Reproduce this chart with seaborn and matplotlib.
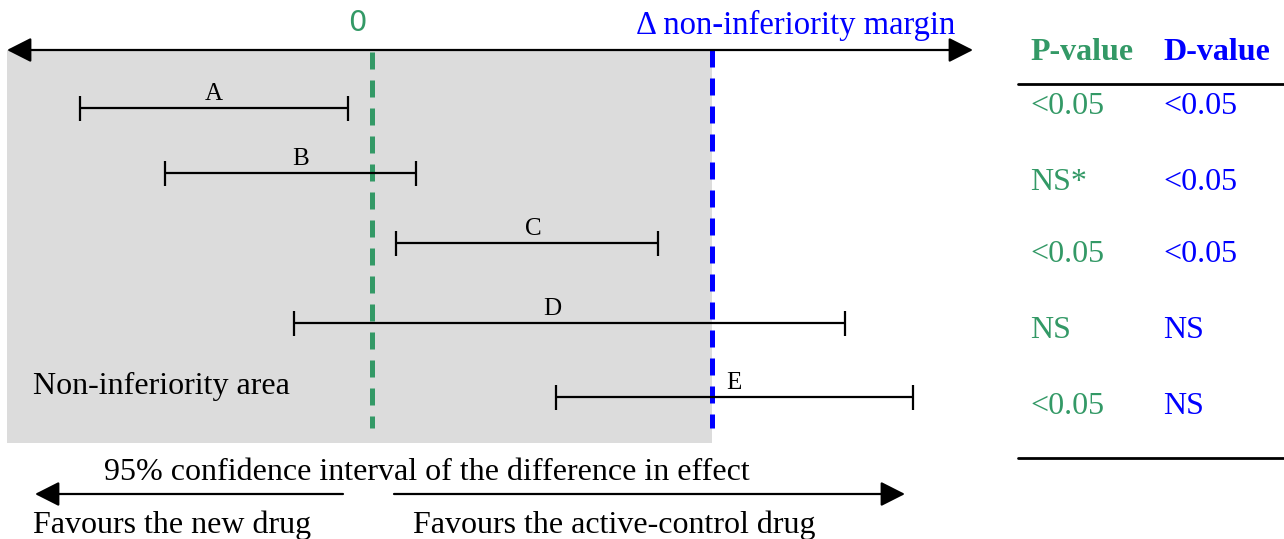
import numpy as np
import pandas as pd
import matplotlib
matplotlib.use("Agg")
import matplotlib.pyplot as plt
import seaborn as sns

# Data: 95% CIs of the difference in effect (units of the non-inferiority margin)
trials = ["A", "B", "C", "D", "E"]
ci_low = [-0.86, -0.61, 0.07, -0.23, 0.54]
ci_high = [-0.07, 0.13, 0.84, 1.39, 1.59]
margin = 1.0
p_values = ["<0.05", "NS*", "<0.05", "NS", "<0.05"]
d_values = ["<0.05", "<0.05", "<0.05", "NS", "NS"]

df = pd.DataFrame({"trial": trials, "low": ci_low, "high": ci_high})
df["mid"] = (df["low"] + df["high"]) / 2
df["half"] = (df["high"] - df["low"]) / 2

# layout (figure pixels, y measured from top)
W, H = 1284, 539
row_y = [108, 173, 243, 323, 397]
table_y = [107, 183, 255, 331, 406]
label_dx = [0.0, 0.03, 0.02, -0.05, 0.0]

sns.set_theme(style="white")
plt.rcParams["font.family"] = ["Liberation Serif", "DejaVu Serif"]

GREEN = "#339966"
BLUE = "#0000ff"
FS = 23

fig = plt.figure(figsize=(W / 100, H / 100), dpi=100)
ax = fig.add_axes([0, 0, 1, 1])
ax.set_xlim((0 - 372) / 340, (W - 372) / 340)
ax.set_ylim(H, 0)
ax.axis("off")

# non-inferiority area
ax.fill_between([(7 - 372) / 340, margin], 50, 443, color="#dcdcdc", lw=0, zorder=0)

# reference lines
ax.vlines(0, 52, 428, colors=GREEN, lw=3.6, linestyles=(0, (3.4, 2.2)), zorder=2)
ax.vlines(margin, 50, 428, colors=BLUE, lw=3.6, linestyles=(0, (3.4, 2.2)), zorder=2)

# confidence intervals
ax.errorbar(df["mid"], row_y, xerr=df["half"], fmt="none", ecolor="black",
            elinewidth=1.6, capsize=9, capthick=1.6, zorder=3)
for i, r in df.iterrows():
    ax.text(r["mid"] + label_dx[i], row_y[i] - 3, r["trial"], ha="center",
            va="bottom", fontsize=18, color="black", zorder=4)

# top axis arrow
ax.annotate("", xy=(7, H - 50), xytext=(973, H - 50), xycoords="figure pixels",
            textcoords="figure pixels",
            arrowprops=dict(arrowstyle="<|-|>,head_length=0.75,head_width=0.38",
                            mutation_scale=20, color="black", lw=1.6,
                            shrinkA=0, shrinkB=0))

fig.text(357 / W, 1 - 23 / H, "0", color=GREEN, fontsize=21, family="DejaVu Sans",
         ha="center", va="center")
fig.text(955 / W, 1 - 25 / H, "\u0394 non-inferiority margin", color=BLUE,
         fontsize=23.5, ha="right", va="center")
fig.text(33 / W, 1 - 386 / H, "Non-inferiority area", color="black", fontsize=FS,
         ha="left", va="center")

# table
fig.text(1030 / W, 1 - 52 / H, "P-value", color=GREEN, fontsize=FS, weight="bold",
         ha="left", va="center")
fig.text(1163 / W, 1 - 52 / H, "D-value", color=BLUE, fontsize=FS, weight="bold",
         ha="left", va="center")
fig.add_artist(plt.Line2D([1018 / W, 1], [1 - 84 / H] * 2, color="black", lw=2))
fig.add_artist(plt.Line2D([1018 / W, 1], [1 - 458 / H] * 2, color="black", lw=2))
for y, p, d in zip(table_y, p_values, d_values):
    fig.text(1030 / W, 1 - y / H, p, color=GREEN, fontsize=FS, ha="left", va="center")
    fig.text(1163 / W, 1 - y / H, d, color=BLUE, fontsize=FS, ha="left", va="center")

# bottom direction arrows
fig.text(427 / W, 1 - 473 / H, "95% confidence interval of the difference in effect",
         color="black", fontsize=FS, ha="center", va="center")
ax.annotate("", xy=(35, H - 494), xytext=(343, H - 494), xycoords="figure pixels",
            textcoords="figure pixels",
            arrowprops=dict(arrowstyle="-|>,head_length=0.75,head_width=0.38",
                            mutation_scale=20, color="black", lw=1.6,
                            shrinkA=0, shrinkB=0))
ax.annotate("", xy=(905, H - 494), xytext=(394, H - 494), xycoords="figure pixels",
            textcoords="figure pixels",
            arrowprops=dict(arrowstyle="-|>,head_length=0.75,head_width=0.38",
                            mutation_scale=20, color="black", lw=1.6,
                            shrinkA=0, shrinkB=0))
fig.text(33 / W, 1 - 525 / H, "Favours the new drug", color="black", fontsize=FS,
         ha="left", va="center")
fig.text(413 / W, 1 - 525 / H, "Favours the active-control drug", color="black",
         fontsize=FS, ha="left", va="center")

fig.savefig("out.png", dpi=100)
